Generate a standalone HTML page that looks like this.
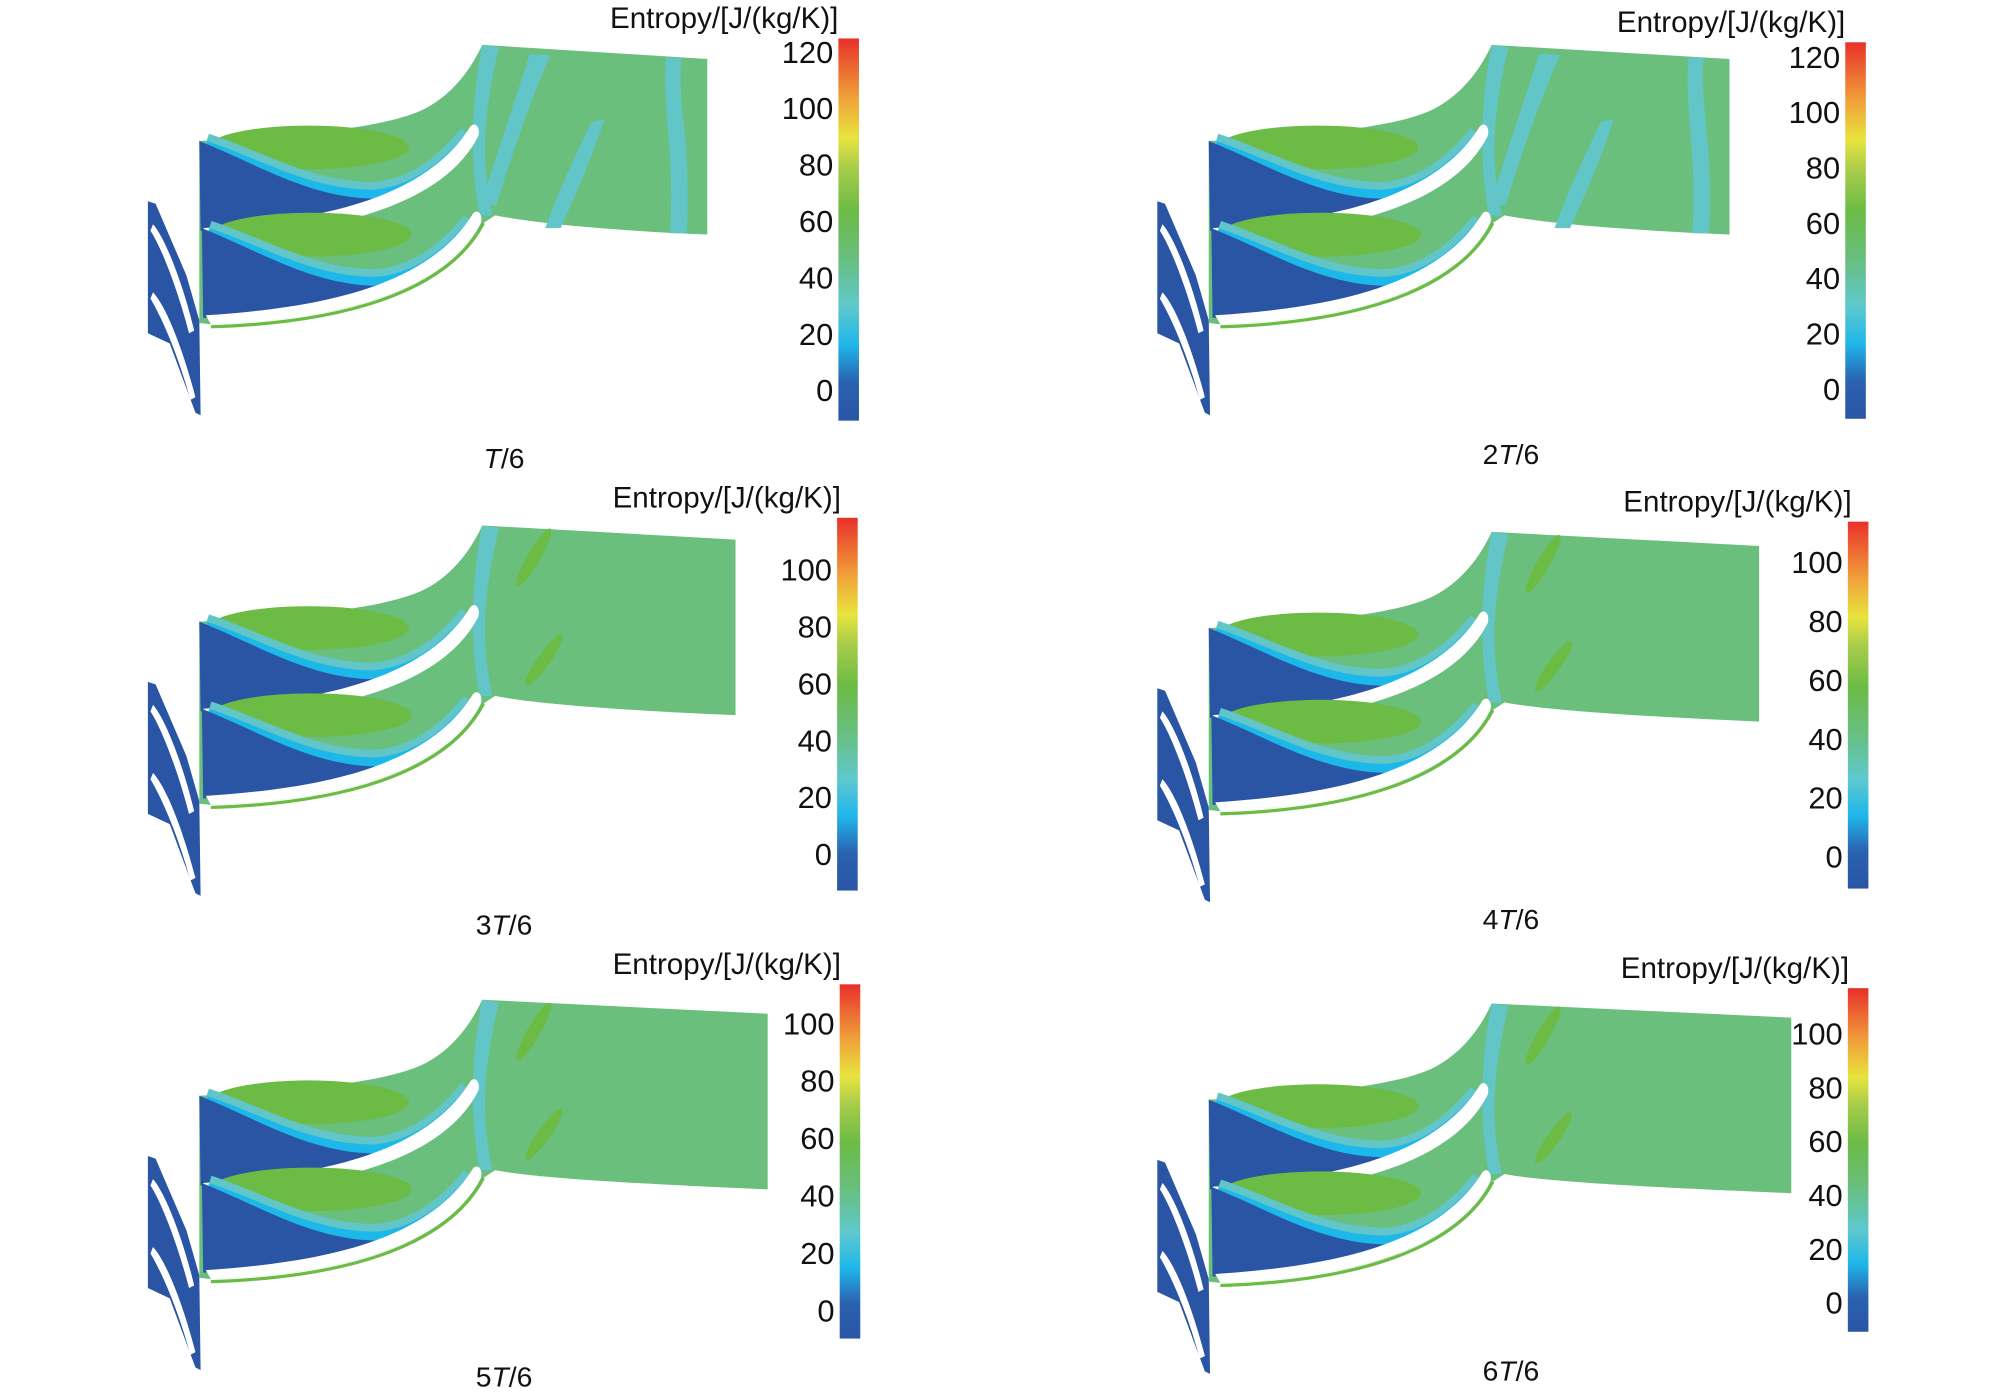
<!DOCTYPE html>
<html><head><meta charset="utf-8"><style>
html,body{margin:0;padding:0;background:#fff;}
svg{display:block;}
text{font-family:"Liberation Sans",sans-serif;fill:#111;}
</style></head><body>
<svg id="fig" width="2006" height="1397" viewBox="0 0 1560 1090" preserveAspectRatio="none" xmlns="http://www.w3.org/2000/svg">
<defs>
<linearGradient id="cbar" x1="0" y1="1" x2="0" y2="0">
<stop offset="0" stop-color="#2a55a5"/>
<stop offset="0.1" stop-color="#2a62b0"/>
<stop offset="0.2" stop-color="#1fb7ea"/>
<stop offset="0.3" stop-color="#5fc8cc"/>
<stop offset="0.42" stop-color="#68bf80"/>
<stop offset="0.55" stop-color="#6cbb45"/>
<stop offset="0.66" stop-color="#a7cc4a"/>
<stop offset="0.74" stop-color="#e7e43e"/>
<stop offset="0.84" stop-color="#f0a43a"/>
<stop offset="1" stop-color="#e8302a"/>
</linearGradient>
</defs>
</svg>
<script>
const ticks120 = [0,20,40,60,80,100,120];
const ticks100 = [0,20,40,60,80,100];
const captionNums = ["", "2", "3", "4", "5", "6"];
const scaleMax = [120,120,100,100,100,100];
const scaleMin = [-11,-11,-13,-11,-10,-11];

const NS = "http://www.w3.org/2000/svg";
const svg = document.getElementById('fig');
function mk(tag, attrs, parent){ const e=document.createElementNS(NS,tag); for(const k in attrs) e.setAttribute(k,attrs[k]); (parent||svg).appendChild(e); return e; }

const layout = [
 {dx:0,dy:0,R:550,cbx:652,cbTop:30,cb0:304,cbV:40,cbVval:120,tx:652,ty:22,capx:392,capy:365,band:true},
 {dx:785,dy:0,R:1345-785,cbx:1435,cbTop:33,cb0:303,cbV:44,cbVval:120,tx:1435,ty:25,capx:1175,capy:362,band:true},
 {dx:0,dy:375,R:572,cbx:651,cbTop:404,cb0:666,cbV:444,cbVval:100,tx:654,ty:396,capx:392,capy:729,band:false},
 {dx:785,dy:380,R:1368-785,cbx:1437,cbTop:407,cb0:668,cbV:438,cbVval:100,tx:1440,ty:399,capx:1175,capy:725,band:false},
 {dx:0,dy:745,R:597,cbx:653,cbTop:768,cb0:1022,cbV:798,cbVval:100,tx:654,ty:760,capx:392,capy:1082,band:false},
 {dx:785,dy:748,R:1393-785,cbx:1437,cbTop:771,cb0:1016,cbV:806,cbVval:100,tx:1438,ty:763,capx:1175,capy:1077,band:false}
];

layout.forEach((L,i)=>{
  const g = mk('g',{transform:`translate(${L.dx},${L.dy})`});
  
  
  const R = L.R;
  const st = mk('path',{d:'M115,157 L121,159 L145,215 L155,250 L156,324 L152,322 L132,268 L115,260 Z',fill:'#2a55a5'},g);
  
  
  mk('path',{d:'M119,175 C128,185 142,220 151,258 L147,260 C138,225 125,192 117,180 Z',fill:'#fff'},g);
  mk('path',{d:'M119,228 C130,240 143,275 152,310 L148,312 C139,278 126,248 117,233 Z',fill:'#fff'},g);
  const dom = mk('path',{d:`M155,110 C230,106 300,100 330,85 C355,72 368,50 375,35 L${R},46 L${R},183 C${R-70},180 420,175 385,168 L376,174 C347,228 262,250 164,253 L155,252 Z`,fill:'#6abf7c'},g);
  
  
  mk('path',{d:'M375,35 L388,37 C378,80 372,120 383,168 L373,168 C364,120 368,70 375,35 Z',fill:'#62c6c8'},g);
  if(L.band){
    mk('path',{d:'M412,42 L428,43 C412,80 398,120 386,160 L374,160 C386,120 400,80 412,42 Z',fill:'#62c6c8'},g);
    mk('path',{d:'M460,95 L470,93 C458,130 444,160 436,178 L424,178 C434,150 448,120 460,95 Z',fill:'#62c6c8'},g);
    mk('path',{d:`M${R-32},45 L${R-20},45 C${R-24},80 ${R-12},110 ${R-16},182 L${R-29},182 C${R-25},120 ${R-35},90 ${R-32},45 Z`,fill:'#62c6c8'},g);
  } else {
    mk('ellipse',{cx:415,cy:60,rx:5,ry:26,transform:'rotate(30 415 60)',fill:'#6cbb45'},g);
    mk('ellipse',{cx:423,cy:140,rx:5,ry:24,transform:'rotate(35 423 140)',fill:'#6cbb45'},g);
  }
  [0,68].forEach((sy,k)=>{
    const pg = mk('g',{transform:`translate(${k?2:0},${sy})`},g);
    
    
    mk('ellipse',{cx:240,cy:115,rx:78,ry:17,fill:'#6cbb45'},pg);
    mk('path',{d:'M160,112 C200,125 240,150 290,150 C320,148 345,130 365,105',fill:'none',stroke:'#62c6c8','stroke-width':16},pg);
    mk('path',{d:'M160,114 C200,127 240,152 290,152 C320,150 345,132 366,106',fill:'none',stroke:'#1db8ea','stroke-width':8},pg);
    mk('path',{d:'M155,110 C200,128 240,154 290,155 C320,153 345,135 367,108 L368,112 C340,160 260,175 156,180 Z',fill:'#2a55a5'},pg);
    mk('path',{d:'M158,178 C250,172 330,155 365,100 C368,94 374,98 372,106 C345,160 260,182 162,185 Z',fill:'#fff'},pg);
    if(k===1) mk('path',{d:'M162,187 C260,184 345,162 374,106',fill:'none',stroke:'#6cbb45','stroke-width':2.5},pg);
  });
  const cbBot = L.cb0 + (L.cb0-L.cbV)/L.cbVval * (-scaleMin[i]);
  const cb = mk('rect',{x:L.cbx,y:L.cbTop,width:16,height:cbBot-L.cbTop,fill:'url(#cbar)'});
  
  
  const tv = scaleMax[i]===120?ticks120:ticks100;
  tv.forEach(v=>{
    const y = L.cb0 - (L.cb0-L.cbV)*v/L.cbVval;
    const t = mk('text',{x:L.cbx-4,y:y+9,'text-anchor':'end','font-size':24});
    t.textContent = v;
    
    
  });
  const ti = mk('text',{x:L.tx,y:L.ty,'text-anchor':'end','font-size':23});
  ti.textContent = 'Entropy/[J/(kg/K)]';
  
  
  const cap = mk('text',{x:L.capx,y:L.capy,'text-anchor':'middle','font-size':22});
  
  
  const s1 = mk('tspan',{},cap); s1.textContent = captionNums[i];
  const s2 = mk('tspan',{'font-style':'italic'},cap); s2.textContent = 'T';
  const s3 = mk('tspan',{},cap); s3.textContent = '/6';
});
</script>
</body></html>
